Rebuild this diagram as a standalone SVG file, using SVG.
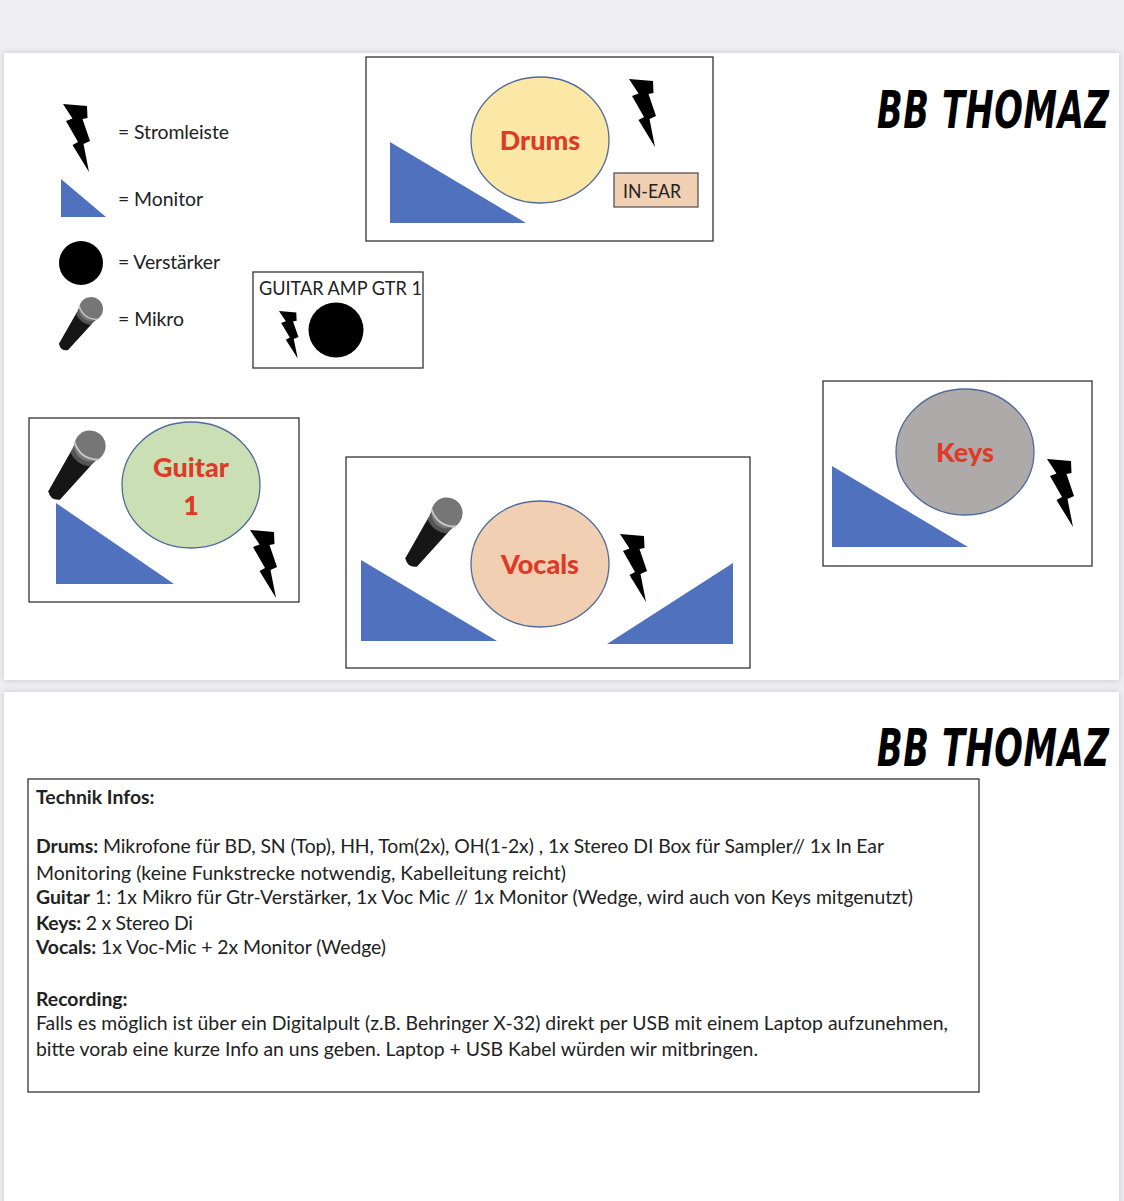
<svg xmlns="http://www.w3.org/2000/svg" width="1124" height="1201" viewBox="0 0 1124 1201">
<style>
text{font-family:"Lato","Carlito","Open Sans",sans-serif;fill:#222}
.t{font-size:19.4px}
.b{font-weight:700}
.box{fill:#fff;stroke:#333;stroke-width:1.3}
.mon{fill:#4f71be}
.c{stroke:#4f6a9a;stroke-width:1.3}
.lab{font-size:27px;font-weight:900;fill:#dd3a27;text-anchor:middle}
.logo{font-family:"DejaVu Sans Condensed","DejaVu Sans",sans-serif;font-weight:700;font-style:italic;font-size:52px;fill:#000}
.shadow{fill:#c4c4ca;filter:url(#soft)}
</style>
<defs>
<filter id="soft" x="-5%" y="-5%" width="110%" height="110%"><feGaussianBlur stdDeviation="3"/></filter>
<polygon id="bolt" points="0,0 24,2 24.500,14 19.500,15 27,37 20.500,40 26,68 9.500,41 15,38 3,17 9.500,14.500"/>
<g id="mic">
<path d="M-9.500,11 L9.500,11 L5.500,47 Q0,52 -5.500,47 Z" fill="#161616"/>
<path d="M-10.500,6 Q0,15 10.500,6 L9,13 Q0,18 -9,13 Z" fill="#555"/>
<circle r="12" fill="#767676"/>
<path d="M-11.500,4.500 Q0,13 11.500,4.500" fill="none" stroke="#c8c8c8" stroke-width="1.500"/>
</g>
</defs>
<rect width="1124" height="1201" fill="#eeeef2"/>
<rect class="shadow" x="4" y="53" width="1115" height="627"/>
<rect class="shadow" x="4" y="692" width="1115" height="520"/>
<rect x="4" y="53" width="1115" height="627" fill="#fff"/>
<rect x="4" y="692" width="1115" height="509" fill="#fff"/>

<g id="legend">
<use href="#bolt" transform="translate(63,104)"/>
<text class="t" x="118" y="139" textLength="111">= Stromleiste</text>
<polygon class="mon" points="61,179 61,217 106,217"/>
<text class="t" x="118" y="206" textLength="85">= Monitor</text>
<circle cx="81" cy="263" r="22" fill="#000"/>
<text class="t" x="118" y="269" textLength="102">= Verstärker</text>
<use href="#mic" transform="translate(91,309) rotate(36)"/>
<text class="t" x="118" y="326" textLength="66">= Mikro</text>
</g>

<g id="drums">
<rect class="box" x="366" y="57" width="347" height="184"/>
<ellipse class="c" cx="540" cy="140" rx="69" ry="63" fill="#fbe8a6"/>
<text class="lab" x="540" y="150">Drums</text>
<polygon class="mon" points="390,142 390,223 526,223"/>
<use href="#bolt" transform="translate(629,79)"/>
<rect x="614" y="173" width="84" height="34" fill="#f1cfb3" stroke="#555" stroke-width="1.300"/>
<text class="t" x="623" y="198" textLength="58" lengthAdjust="spacingAndGlyphs">IN-EAR</text>
</g>

<g id="amp">
<rect class="box" x="253" y="272" width="170" height="96"/>
<text class="t" x="259" y="295" textLength="163" lengthAdjust="spacingAndGlyphs">GUITAR AMP GTR 1</text>
<use href="#bolt" transform="translate(279,311) scale(.72,.7)"/>
<circle cx="336" cy="330" r="27.500" fill="#000"/>
</g>

<g id="guitar">
<rect class="box" x="29" y="418" width="270" height="184"/>
<ellipse class="c" cx="191" cy="485" rx="69" ry="63" fill="#cbdfb5"/>
<text class="lab" x="191" y="477">Guitar</text>
<text class="lab" x="191" y="515">1</text>
<polygon class="mon" points="56,503 56,584 174,584"/>
<use href="#mic" transform="translate(90,446) rotate(36) scale(1.300)"/>
<use href="#bolt" transform="translate(250,530)"/>
</g>

<g id="vocals">
<rect class="box" x="346" y="457" width="404" height="211"/>
<ellipse class="c" cx="540" cy="564" rx="69" ry="63" fill="#f1cfb3"/>
<text class="lab" x="540" y="574">Vocals</text>
<polygon class="mon" points="361,560 361,641 497,641"/>
<polygon class="mon" points="733,563 733,644 607,644"/>
<use href="#mic" transform="translate(447,513) rotate(36) scale(1.300)"/>
<use href="#bolt" transform="translate(620,534)"/>
</g>

<g id="keys">
<rect class="box" x="823" y="381" width="269" height="185"/>
<ellipse class="c" cx="965" cy="452" rx="69" ry="63" fill="#aeaaaa"/>
<text class="lab" x="965" y="462">Keys</text>
<polygon class="mon" points="832,466 832,547 968,547"/>
<use href="#bolt" transform="translate(1047,459)"/>
</g>

<g id="logo1"><text class="logo" transform="translate(877,128) scale(.72,1)" x="0" y="0" textLength="322" lengthAdjust="spacing">BB THOMAZ</text></g>
<g id="logo2"><text class="logo" transform="translate(877,766) scale(.72,1)" x="0" y="0" textLength="322" lengthAdjust="spacing">BB THOMAZ</text></g>

<g id="infos">
<rect class="box" x="28" y="779" width="951" height="313"/>
<text class="t b" x="36" y="804">Technik Infos:</text>
<text class="t" x="36" y="853" textLength="848"><tspan class="b">Drums:</tspan> Mikrofone für BD, SN (Top), HH, Tom(2x), OH(1-2x) , 1x Stereo DI Box für Sampler// 1x In Ear</text>
<text class="t" x="36" y="880" textLength="530">Monitoring (keine Funkstrecke notwendig, Kabelleitung reicht)</text>
<text class="t" x="36" y="904" textLength="877"><tspan class="b">Guitar</tspan> 1: 1x Mikro für Gtr-Verstärker, 1x Voc Mic // 1x Monitor (Wedge, wird auch von Keys mitgenutzt)</text>
<text class="t" x="36" y="930" textLength="157"><tspan class="b">Keys:</tspan> 2 x Stereo Di</text>
<text class="t" x="36" y="954" textLength="350"><tspan class="b">Vocals:</tspan> 1x Voc-Mic + 2x Monitor (Wedge)</text>
<text class="t b" x="36" y="1006">Recording:</text>
<text class="t" x="36" y="1030" textLength="912">Falls es möglich ist über ein Digitalpult (z.B. Behringer X-32) direkt per USB mit einem Laptop aufzunehmen,</text>
<text class="t" x="36" y="1056" textLength="722">bitte vorab eine kurze Info an uns geben. Laptop + USB Kabel würden wir mitbringen.</text>
</g>
</svg>
